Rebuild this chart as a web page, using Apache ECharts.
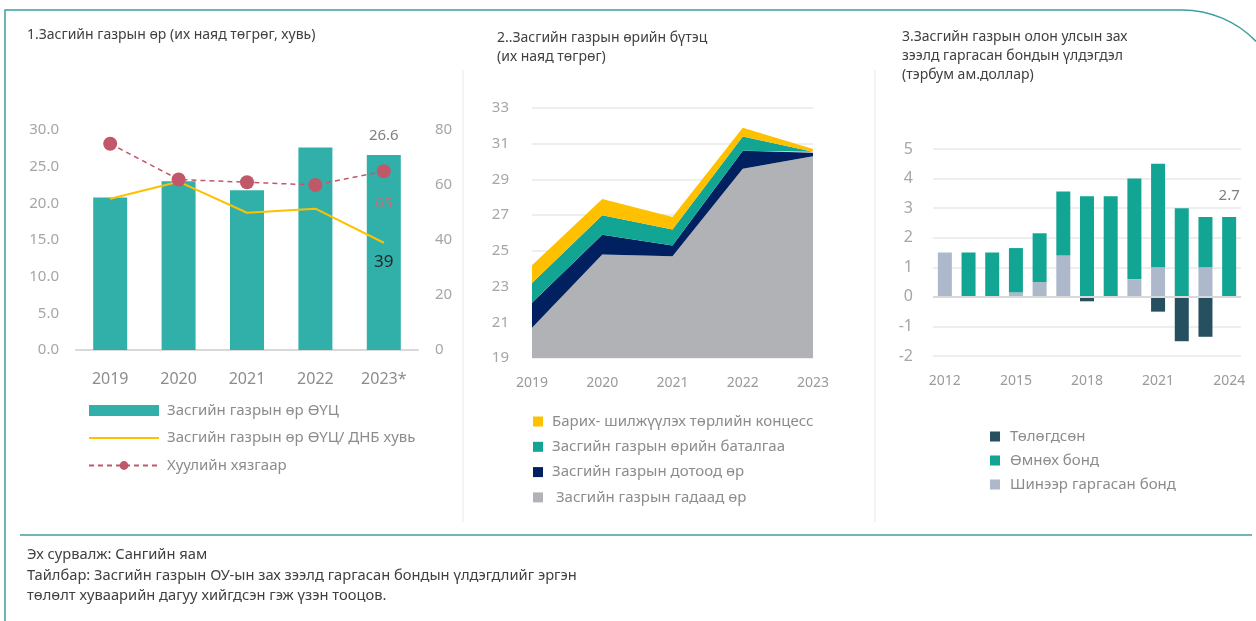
<!DOCTYPE html>
<html><head><meta charset="utf-8">
<script src="https://cdn.jsdelivr.net/npm/echarts@6/dist/echarts.min.js"></script>
<style>html,body{margin:0;padding:0;background:#fff}#c{width:1256px;height:621px}</style>
</head><body><div id="c"></div><script>
// ---- Panel 1 data ----
const years1 = ['2019', '2020', '2021', '2022', '2023*'];
const debtNPV = [20.8, 23.0, 21.8, 27.6, 26.6];
const debtToGDP = [55.0, 61.2, 49.9, 51.4, 39];
const legalLimit = [75, 62, 61, 60, 65];
const ticks1Left = [0, 5, 10, 15, 20, 25, 30];
const ticks1Right = [0, 20, 40, 60, 80];

// ---- Panel 2 data ----
const years2 = ['2019', '2020', '2021', '2022', '2023'];
const externalDebt = [20.7, 24.8, 24.7, 29.6, 30.3];
const domesticDebt = [1.4, 1.1, 0.6, 1.0, 0.2];
const guarantees = [1.1, 1.1, 0.9, 0.8, 0.05];
const concessions = [1.0, 0.9, 0.7, 0.5, 0.15];

// ---- Panel 3 data ----
const years3 = ['2012', '2013', '2014', '2015', '2016', '2017', '2018', '2019', '2020', '2021', '2022', '2023', '2024'];
const newBonds = [1.5, 0, 0, 0.15, 0.5, 1.4, 0, 0, 0.6, 1.0, 0, 1.0, 0];
const prevBonds = [0, 1.5, 1.5, 1.5, 1.65, 2.16, 3.4, 3.4, 3.4, 3.5, 3.0, 1.7, 2.7];
const repaid = [0, 0, 0, 0, 0, 0, -0.15, 0, 0, -0.5, -1.5, -1.35, 0];

// ---- names ----
const n1 = ['Засгийн газрын өр ӨҮЦ', 'Засгийн газрын өр ӨҮЦ/ ДНБ хувь', 'Хуулийн хязгаар'];
const n2 = ['Барих- шилжүүлэх төрлийн концесс', 'Засгийн газрын өрийн баталгаа', 'Засгийн газрын дотоод өр', ' Засгийн газрын гадаад өр'];
const n3 = ['Төлөгдсөн', 'Өмнөх бонд', 'Шинээр гаргасан бонд'];

const FONT = 'Noto Sans';
const TEAL = '#31b0aa', YEL = '#ffc000', RED = '#c0586a';
const C2 = { grey: '#b1b2b5', navy: '#002060', teal: '#12a594', yel: '#ffc000' };
const C3 = { dark: '#264f5f', teal: '#12a594', light: '#adb9ca' };

function lastLabel(arr, label) {
  return arr.map((v, i) => i === arr.length - 1 ? { value: v, label: Object.assign({ show: true }, label) } : v);
}

const chart = echarts.init(document.getElementById('c'), null, { renderer: 'canvas' });
const titleStyle = { fontFamily: FONT, fontSize: 14, fill: '#404040' };
const legendText = { color: '#8c8c8c', fontSize: 15, fontFamily: FONT };
const lineIcon = 'path://M0,0 L0.01,0 Z M0,4.5 L70,4.5 L70,6.5 L0,6.5 Z M0,11 L0.01,11 Z';

const option = {
  backgroundColor: '#fff',
  textStyle: { fontFamily: FONT },
  animation: false,
  grid: [
    { left: 76, top: 130, width: 342, height: 220 },
    { left: 532, top: 108, width: 281, height: 250 },
    { left: 933, top: 149, width: 308, height: 207 }
  ],
  xAxis: [
    { gridIndex: 0, type: 'category', data: years1, axisTick: { show: false },
      axisLine: { lineStyle: { color: '#d9d9d9', width: 2 } },
      axisLabel: { color: '#8c8c8c', fontSize: 16, margin: 21 } },
    { gridIndex: 1, type: 'category', data: years2, boundaryGap: false, axisTick: { show: false },
      axisLine: { show: false },
      axisLabel: { color: '#9a9a9a', fontSize: 14, margin: 18 } },
    { gridIndex: 2, type: 'category', data: years3, axisTick: { show: false },
      axisLine: { show: false, onZero: false },
      axisLabel: { color: '#9a9a9a', fontSize: 14, margin: 18, interval: 2 } }
  ],
  yAxis: [
    { gridIndex: 0, type: 'value', min: ticks1Left[0], max: ticks1Left[ticks1Left.length - 1], interval: 5,
      splitLine: { show: false }, axisLine: { show: false }, axisTick: { show: false },
      axisLabel: { color: '#a6a6a6', fontSize: 15, margin: 17, formatter: v => v.toFixed(1) } },
    { gridIndex: 0, type: 'value', position: 'right', min: ticks1Right[0], max: ticks1Right[ticks1Right.length - 1], interval: 20,
      splitLine: { show: false }, axisLine: { show: false }, axisTick: { show: false },
      axisLabel: { color: '#a6a6a6', fontSize: 15, margin: 17 } },
    { gridIndex: 1, type: 'value', min: 19, max: 33, interval: 2,
      splitLine: { lineStyle: { color: '#eeeeee', width: 2 } }, axisLine: { show: false }, axisTick: { show: false },
      axisLabel: { color: '#a6a6a6', fontSize: 15, margin: 23 } },
    { gridIndex: 2, type: 'value', min: -2, max: 5, interval: 1,
      splitLine: { lineStyle: { color: '#eeeeee', width: 2 } }, axisLine: { show: false }, axisTick: { show: false },
      axisLabel: { color: '#a6a6a6', fontSize: 16, margin: 20 } }
  ],
  legend: [
    { data: [{ name: n1[0], icon: 'rect' }, { name: n1[1], icon: lineIcon }, { name: n1[2] }],
      orient: 'vertical', left: 88, top: 403, padding: 0, itemWidth: 70, itemHeight: 11, itemGap: 12.5,
      textStyle: Object.assign({ padding: [0, 0, 0, 3] }, legendText) },
    { data: n2, orient: 'vertical', left: 533, top: 414, padding: 0, itemWidth: 10, itemHeight: 10, itemGap: 10.3, icon: 'rect',
      textStyle: Object.assign({ padding: [0, 0, 0, 4] }, legendText) },
    { data: n3, orient: 'vertical', left: 990, top: 429, padding: 0, itemWidth: 10, itemHeight: 10, itemGap: 9, icon: 'rect',
      textStyle: Object.assign({ padding: [0, 0, 0, 5] }, legendText) }
  ],
  series: [
    // panel 1
    { name: n1[0], type: 'bar', xAxisIndex: 0, yAxisIndex: 0, barWidth: 34, itemStyle: { color: TEAL },
      data: lastLabel(debtNPV, { position: 'top', distance: 12, color: '#7f7f7f', fontSize: 15, formatter: p => p.value.toFixed(1) }) },
    { name: n1[1], type: 'line', xAxisIndex: 0, yAxisIndex: 1, symbol: 'circle', symbolSize: 1, lineStyle: { color: YEL, width: 2 }, itemStyle: { color: YEL },
      data: lastLabel(debtToGDP, { position: 'bottom', distance: 10, color: '#262626', fontSize: 17, formatter: p => Math.round(p.value) }) },
    { name: n1[2], type: 'line', xAxisIndex: 0, yAxisIndex: 1, symbol: 'circle', symbolSize: 14,
      lineStyle: { color: RED, width: 1.5, type: [5, 4] }, itemStyle: { color: RED },
      data: lastLabel(legalLimit, { position: 'bottom', distance: 18, color: '#c0707c', fontSize: 15 }) },
    // panel 2 (stacked area, bottom first)
    { name: n2[3], type: 'line', xAxisIndex: 1, yAxisIndex: 2, stack: 'a', symbol: 'none', lineStyle: { width: 0 },
      areaStyle: { color: C2.grey, opacity: 1 }, itemStyle: { color: C2.grey }, data: externalDebt },
    { name: n2[2], type: 'line', xAxisIndex: 1, yAxisIndex: 2, stack: 'a', symbol: 'none', lineStyle: { width: 0 },
      areaStyle: { color: C2.navy, opacity: 1 }, itemStyle: { color: C2.navy }, data: domesticDebt },
    { name: n2[1], type: 'line', xAxisIndex: 1, yAxisIndex: 2, stack: 'a', symbol: 'none', lineStyle: { width: 0 },
      areaStyle: { color: C2.teal, opacity: 1 }, itemStyle: { color: C2.teal }, data: guarantees },
    { name: n2[0], type: 'line', xAxisIndex: 1, yAxisIndex: 2, stack: 'a', symbol: 'none', lineStyle: { width: 0 },
      areaStyle: { color: C2.yel, opacity: 1 }, itemStyle: { color: C2.yel }, data: concessions },
    // panel 3
    { name: n3[2], type: 'bar', xAxisIndex: 2, yAxisIndex: 3, stack: 'b', barWidth: 14, itemStyle: { color: C3.light }, data: newBonds },
    { name: n3[1], type: 'bar', xAxisIndex: 2, yAxisIndex: 3, stack: 'b', barWidth: 14, itemStyle: { color: C3.teal },
      data: lastLabel(prevBonds, { position: 'top', distance: 14, color: '#7f7f7f', fontSize: 15 }) },
    { name: n3[0], type: 'bar', xAxisIndex: 2, yAxisIndex: 3, stack: 'b', barWidth: 14, itemStyle: { color: C3.dark }, data: repaid,
      markLine: { silent: true, symbol: 'none', label: { show: false }, lineStyle: { color: '#d9d9d9', width: 2, type: 'solid' },
        emphasis: { disabled: true }, data: [{ yAxis: 0 }] } }
  ],
  graphic: [
    { type: 'polyline', silent: true, shape: { points: [[5, 621], [5, 10], [1182, 10]] }, style: { stroke: '#3e9ea0', lineWidth: 1.5, fill: null } },
    { type: 'arc', silent: true, shape: { cx: 1182, cy: 113, r: 103, startAngle: -Math.PI / 2, endAngle: -0.769, clockwise: true }, style: { stroke: '#3e9ea0', lineWidth: 1.5, fill: null } },
    { type: 'line', silent: true, shape: { x1: 20, y1: 535, x2: 1252, y2: 535 }, style: { stroke: '#3e9ea0', lineWidth: 1.5 } },
    { type: 'line', silent: true, shape: { x1: 463, y1: 70, x2: 463, y2: 522 }, style: { stroke: '#e8e8e8', lineWidth: 1 } },
    { type: 'line', silent: true, shape: { x1: 875, y1: 70, x2: 875, y2: 522 }, style: { stroke: '#e8e8e8', lineWidth: 1 } },
    { type: 'text', left: 27, top: 28, style: Object.assign({ text: '1.Засгийн газрын өр (их наяд төгрөг, хувь)' }, titleStyle) },
    { type: 'text', left: 497, top: 28, style: Object.assign({ text: '2..Засгийн газрын өрийн бүтэц\n(их наяд төгрөг)', lineHeight: 19.5 }, titleStyle) },
    { type: 'text', left: 902, top: 28, style: Object.assign({ text: '3.Засгийн газрын олон улсын зах\nзээлд гаргасан бондын үлдэгдэл\n(тэрбум ам.доллар)', lineHeight: 19 }, titleStyle) },
    { type: 'text', left: 27, top: 545, style: Object.assign({}, titleStyle, { fontSize: 14.7, text: 'Эх сурвалж: Сангийн яам\nТайлбар: Засгийн газрын ОУ-ын зах зээлд гаргасан бондын үлдэгдлийг эргэн\nтөлөлт хуваарийн дагуу хийгдсэн гэж үзэн тооцов.', lineHeight: 20.5 }) }
  ]
};
chart.setOption(option);
</script></body></html>
